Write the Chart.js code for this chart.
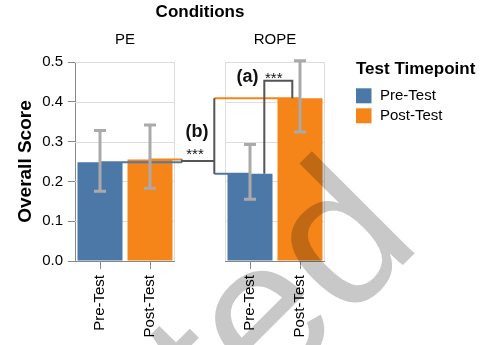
<!DOCTYPE html>
<html>
<head>
<meta charset="utf-8">
<script src="https://cdn.jsdelivr.net/npm/chart.js@4.4.1/dist/chart.umd.min.js"></script>
<style>
  html, body { margin: 0; padding: 0; background: #fff; }
</style>
</head>
<body>
<canvas id="graficoScore" width="485" height="345"></canvas>
<script>
const condicoes = ['PE', 'ROPE']
const momentos = ['Pre-Test', 'Post-Test']
const mediaPre = [0.248, 0.219]
const mediaPos = [0.255, 0.409]
const erroPreMin = [0.175, 0.155]
const erroPreMax = [0.328, 0.293]
const erroPosMin = [0.183, 0.324]
const erroPosMax = [0.342, 0.503]
const yTicks = [0, 0.1, 0.2, 0.3, 0.4, 0.5]
const nivelA = 0.453 // altura do colchete (a)

const azul = '#4c78a8'
const laranja = '#f58518'
const cinza = '#555'
const fonte = '"Liberation Sans", Arial, sans-serif'

// monta as colunas: PE (pre, pos), espaco, ROPE (pre, pos)
const labelsEixo = []
const dadosPre = []
const dadosPos = []
condicoes.forEach((c, i) => {
  if (i > 0) {
    labelsEixo.push('')
    dadosPre.push(null)
    dadosPos.push(null)
  }
  labelsEixo.push(momentos[0], momentos[1])
  dadosPre.push(mediaPre[i], null)
  dadosPos.push(null, mediaPos[i])
})

Chart.defaults.font.family = fonte
Chart.defaults.color = '#000'

const fundoPaineis = {
  id: 'fundoPaineis',
  beforeDatasetsDraw(chart) {
    const { ctx, chartArea, scales: { x, y } } = chart
    ctx.save()
    ctx.lineWidth = 1
    condicoes.forEach((c, i) => {
      const esq = Math.round(x.getPixelForValue(3 * i - 0.5))
      const dir = Math.round(x.getPixelForValue(3 * i + 1.5))
      ctx.strokeStyle = '#ddd'
      ctx.beginPath()
      yTicks.forEach(v => {
        const py = Math.round(y.getPixelForValue(v)) + 0.5
        ctx.moveTo(esq, py)
        ctx.lineTo(dir, py)
      })
      ctx.moveTo(dir - 0.5, chartArea.top)
      ctx.lineTo(dir - 0.5, chartArea.bottom)
      if (i > 0) {
        ctx.moveTo(esq + 0.5, chartArea.top)
        ctx.lineTo(esq + 0.5, chartArea.bottom)
      }
      ctx.stroke()
      ctx.strokeStyle = '#888'
      ctx.beginPath()
      ctx.moveTo(esq - (i == 0 ? 1 : 0), chartArea.bottom + 0.5)
      ctx.lineTo(dir, chartArea.bottom + 0.5)
      ctx.stroke()
    })
    ctx.restore()
  }
}

function linha(ctx, pontos, cor) {
  ctx.strokeStyle = cor
  ctx.beginPath()
  pontos.forEach((p, i) => i == 0 ? ctx.moveTo(p[0], p[1]) : ctx.lineTo(p[0], p[1]))
  ctx.stroke()
}

const colchetes = {
  id: 'colchetes',
  afterDatasetsDraw(chart) {
    const { ctx, scales: { x, y } } = chart
    const px = v => x.getPixelForValue(v)
    const py = v => y.getPixelForValue(v)
    ctx.save()
    ctx.lineWidth = 2
    ctx.lineCap = 'butt'
    ctx.lineJoin = 'miter'

    // (b) PE x ROPE
    const juntaPE = 1.64
    const juntaROPE = 2.286
    const meioPE = (mediaPre[0] + mediaPos[0]) / 2
    linha(ctx, [[px(1), py(mediaPos[0])], [px(juntaPE), py(mediaPos[0])]], laranja)
    linha(ctx, [[px(0), py(mediaPre[0])], [px(juntaPE), py(mediaPre[0])]], azul)
    linha(ctx, [[px(juntaPE), py(mediaPos[0])], [px(juntaPE), py(mediaPre[0])]], cinza)
    linha(ctx, [[px(juntaPE), py(meioPE)], [px(juntaROPE), py(meioPE)]], cinza)
    linha(ctx, [[px(juntaROPE), py(mediaPos[1])], [px(4), py(mediaPos[1])]], laranja)
    linha(ctx, [[px(juntaROPE), py(mediaPre[1])], [px(3), py(mediaPre[1])]], azul)
    linha(ctx, [[px(juntaROPE), py(mediaPos[1])], [px(juntaROPE), py(mediaPre[1])]], cinza)

    // (a) pre x pos no ROPE
    linha(ctx, [[px(3.286), py(mediaPre[1])], [px(3.286), py(nivelA)],
      [px(3.846), py(nivelA)], [px(3.846), py(mediaPos[1])]], cinza)

    // barras de erro
    ctx.lineWidth = 3
    ctx.strokeStyle = '#aaa'
    const limites = [[erroPreMin, erroPreMax], [erroPosMin, erroPosMax]]
    limites.forEach((lim, d) => {
      chart.getDatasetMeta(d).data.forEach((barra, j) => {
        const valor = chart.data.datasets[d].data[j]
        if (valor == null) return
        const c = Math.floor(j / 3)
        const yMin = py(lim[0][c])
        const yMax = py(lim[1][c])
        const bx = Math.round(barra.x)
        ctx.beginPath()
        ctx.moveTo(bx, yMin)
        ctx.lineTo(bx, yMax)
        ctx.moveTo(bx - 6, yMin)
        ctx.lineTo(bx + 6, yMin)
        ctx.moveTo(bx - 6, yMax)
        ctx.lineTo(bx + 6, yMax)
        ctx.stroke()
      })
    })

    // textos das anotacoes
    ctx.fillStyle = '#111'
    ctx.textAlign = 'center'
    ctx.textBaseline = 'middle'
    ctx.font = 'bold 18px ' + fonte
    ctx.fillText('(a)', px(2.95), py(nivelA) - 4)
    ctx.fillText('(b)', px(1.94), py(meioPE) - 28.5)
    ctx.font = '15px ' + fonte
    ctx.textBaseline = 'alphabetic'
    ctx.fillText('***', px(1.9), py(meioPE) - 2)
    ctx.textAlign = 'left'
    ctx.fillText('***', px(3.3), py(nivelA) + 2.3)
    ctx.restore()
  }
}

const cabecalhos = {
  id: 'cabecalhos',
  afterDraw(chart) {
    const { ctx, chartArea, scales: { x } } = chart
    ctx.save()
    ctx.fillStyle = '#000'
    ctx.textAlign = 'center'
    ctx.textBaseline = 'middle'
    ctx.font = '15px ' + fonte
    condicoes.forEach((c, i) => {
      ctx.fillText(c, x.getPixelForValue(3 * i + 0.5), chartArea.top - 22)
    })

    // legenda
    const lx = chartArea.right + 31
    ctx.textAlign = 'left'
    ctx.font = 'bold 17px ' + fonte
    ctx.fillText('Test Timepoint', lx, chartArea.top + 7.5)
    ctx.font = '15px ' + fonte
    ;[azul, laranja].forEach((cor, i) => {
      const ly = chartArea.top + 26.3 + i * 20
      ctx.fillStyle = cor
      ctx.fillRect(lx, ly, 15.5, 15)
      ctx.fillStyle = '#000'
      ctx.fillText(momentos[i], lx + 24, ly + 8)
    })
    ctx.restore()
  }
}

const marcaDagua = {
  id: 'marcaDagua',
  afterDraw(chart) {
    const { ctx } = chart
    ctx.save()
    ctx.globalCompositeOperation = 'multiply'
    ctx.fillStyle = '#c8c8c8'
    ctx.font = '200px ' + fonte
    ctx.translate(424, 244)
    ctx.rotate(-Math.PI / 4)
    ctx.textAlign = 'right'
    ctx.textBaseline = 'alphabetic'
    ctx.fillText('Retracted', 0, 0)
    ctx.restore()
  }
}

const graficoScore = new Chart(document.getElementById('graficoScore'), {
  type: 'bar',
  data: {
    labels: labelsEixo,
    datasets: [{
      label: momentos[0],
      data: dadosPre,
      backgroundColor: azul,
      skipNull: true,
      categoryPercentage: 1,
      barPercentage: 0.9
    }, {
      label: momentos[1],
      data: dadosPos,
      backgroundColor: laranja,
      skipNull: true,
      categoryPercentage: 1,
      barPercentage: 0.9
    }]
  },
  options: {
    responsive: false,
    animation: false,
    devicePixelRatio: 1,
    layout: { padding: { left: 0, right: 160, top: 0, bottom: 0 } },
    plugins: {
      legend: { display: false },
      tooltip: { enabled: false },
      title: {
        display: true,
        text: 'Conditions',
        fullSize: false,
        color: '#000',
        font: { size: 17, weight: 'bold' },
        padding: { top: 2, bottom: 39.6 }
      }
    },
    scales: {
      x: {
        afterFit: scale => { scale.height = 84 },
        grid: {
          drawOnChartArea: false,
          offset: false,
          tickLength: 8,
          color: ctx => ctx.index == 2 ? 'rgba(0,0,0,0)' : '#888'
        },
        border: { display: false },
        ticks: {
          autoSkip: false,
          minRotation: 90,
          maxRotation: 90,
          padding: 6,
          color: '#000',
          font: { size: 15 }
        }
      },
      y: {
        min: 0,
        max: 0.5,
        afterFit: scale => { scale.width = 75 },
        afterBuildTicks: scale => { scale.ticks = yTicks.map(v => ({ value: v })) },
        grid: { drawOnChartArea: false, tickLength: 7, color: '#888' },
        border: { color: '#888' },
        ticks: {
          padding: 5,
          color: '#000',
          font: { size: 15 },
          callback: v => v.toFixed(1)
        },
        title: {
          display: true,
          text: 'Overall Score',
          color: '#000',
          font: { size: 19, weight: 'bold' },
          padding: { top: 14, bottom: 0 }
        }
      }
    }
  },
  plugins: [fundoPaineis, colchetes, cabecalhos, marcaDagua]
})
</script>
</body>
</html>
